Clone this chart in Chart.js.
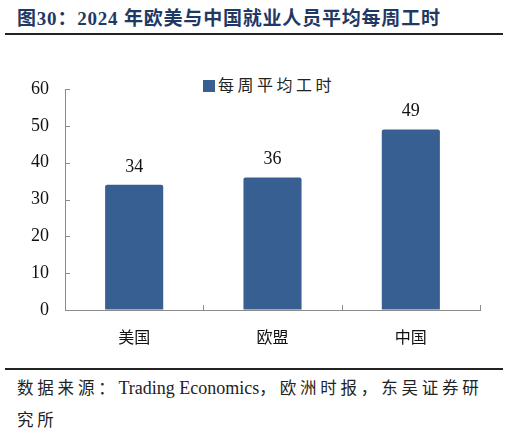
<!DOCTYPE html>
<html><head><meta charset="utf-8">
<script src="https://cdn.jsdelivr.net/npm/chart.js@4"></script>
<style>
html,body{margin:0;padding:0;background:#fff;width:509px;height:432px;overflow:hidden;position:relative;}
#title{position:absolute;left:17px;top:3px;font-family:"Liberation Serif","Noto Sans CJK SC",serif;font-weight:bold;font-size:19px;color:#1f3864;white-space:nowrap;letter-spacing:0.8px;}
.rule{position:absolute;left:5px;width:498px;height:2px;background:#222;}
#legend{position:absolute;left:203px;top:72px;font-family:"Noto Sans CJK SC",sans-serif;font-size:16px;color:#222;white-space:nowrap;letter-spacing:3.5px;}
#legend span.box{display:inline-block;width:12px;height:12px;background:#375f91;margin-right:3px;vertical-align:-1px;}
#src{position:absolute;left:17px;top:372px;width:490px;font-family:"Liberation Serif","Noto Sans CJK SC",serif;font-size:18px;color:#222;line-height:31px;white-space:nowrap;}
#src .cjk{font-family:"Noto Sans CJK SC",sans-serif;font-size:16.5px;letter-spacing:3.8px;}
#wrap{position:absolute;left:0;top:40px;width:509px;height:325px;}
</style></head>
<body>
<div id="title">图30：2024 年欧美与中国就业人员平均每周工时</div>
<div class="rule" style="top:33px"></div>
<div id="legend"><span class="box"></span>每周平均工时</div>
<div id="wrap"><canvas id="c"></canvas></div>
<div class="rule" style="top:368px"></div>
<div id="src"><span class="cjk">数据来源：</span>Trading Economics<span class="cjk">，欧洲时报，东吴证券研</span><br><span class="cjk">究所</span></div>
<script>
const categories = ["美国", "欧盟", "中国"];
const hours = [34, 36, 49];
const seriesName = "每周平均工时";
const yTicks = [0, 10, 20, 30, 40, 50, 60];

const axisColor = "#8c8c8c";
const innerTicks = {
  id: "innerTicks",
  afterDatasetsDraw(chart) {
    const ctx = chart.ctx, x = chart.scales.x, y = chart.scales.y;
    const a = chart.chartArea;
    ctx.save();
    ctx.strokeStyle = axisColor; ctx.lineWidth = 1;
    ctx.beginPath();
    y.ticks.forEach(t => { const py = Math.round(y.getPixelForValue(t.value)) + 0.5; ctx.moveTo(a.left, py); ctx.lineTo(a.left + 5, py); });
    for (let i = 0; i <= categories.length; i++) {
      const px = Math.round(i === categories.length ? a.right : x.getPixelForValue(i) - (x.getPixelForValue(1) - x.getPixelForValue(0)) / 2) + 0.5;
      ctx.moveTo(px, a.bottom); ctx.lineTo(px, a.bottom - 5);
    }
    ctx.stroke();
    const meta = chart.getDatasetMeta(0);
    ctx.fillStyle = "#111";
    ctx.font = "18px 'Liberation Serif', serif";
    ctx.textAlign = "center"; ctx.textBaseline = "bottom";
    meta.data.forEach((bar, i) => { ctx.fillText(String(hours[i]), bar.x, bar.y - 9); });
    ctx.restore();
  }
};

new Chart(document.getElementById("c"), {
  type: "bar",
  data: { labels: categories, datasets: [{ label: seriesName, data: hours, backgroundColor: "#375f91", borderRadius: 2, borderSkipped: "bottom", categoryPercentage: 1, barPercentage: 0.42 }] },
  options: {
    responsive: true, maintainAspectRatio: false, animation: false,
    layout: { padding: { top: 49, right: 29, left: 0, bottom: 0 } },
    plugins: { legend: { display: false }, tooltip: { enabled: false } },
    scales: {
      x: {
        grid: { display: true, drawOnChartArea: false, drawTicks: false },
        border: { color: axisColor, width: 1 },
        ticks: { color: "#111", font: { family: "'Noto Sans CJK SC', sans-serif", size: 16 }, padding: 17 },
        afterFit(s) { s.height = 55; }
      },
      y: {
        min: 0, max: 60,
        afterBuildTicks(s) { s.ticks = yTicks.map(v => ({ value: v })); },
        grid: { display: true, drawOnChartArea: false, drawTicks: false },
        border: { color: axisColor, width: 1 },
        ticks: { color: "#111", font: { family: "'Liberation Serif', serif", size: 18 }, padding: 16 },
        afterFit(s) { s.width = 65; }
      }
    }
  },
  plugins: [innerTicks]
});
</script>
</body></html>
